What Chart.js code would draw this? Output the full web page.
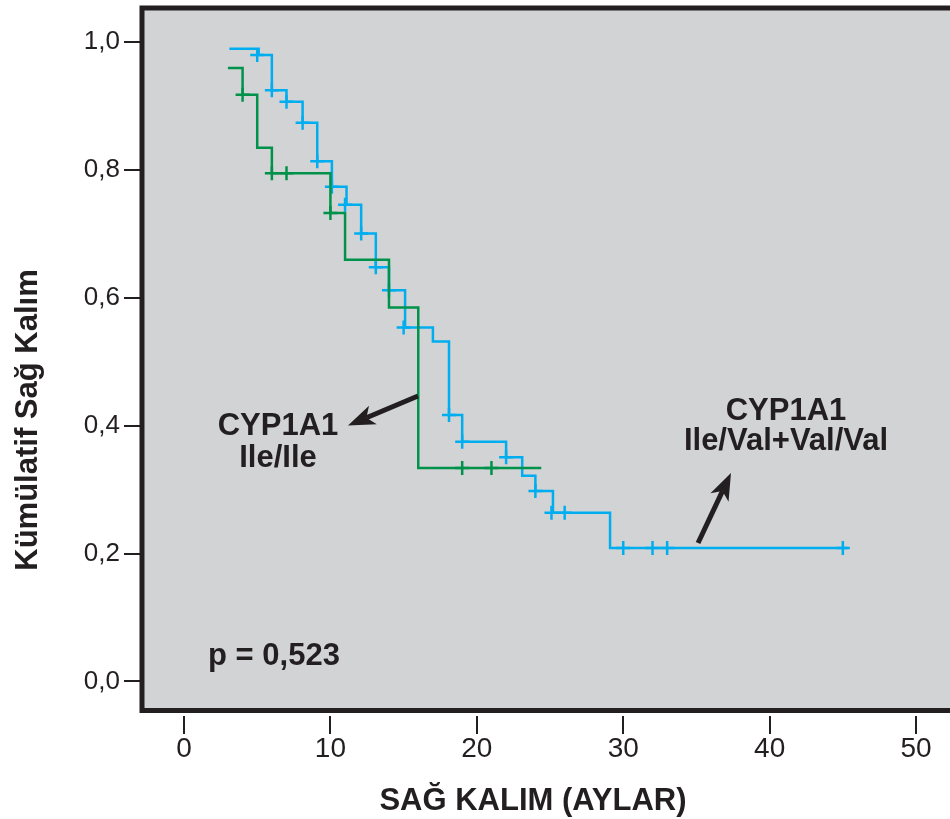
<!DOCTYPE html>
<html>
<head>
<meta charset="utf-8">
<script src="https://cdn.jsdelivr.net/npm/chart.js@4.4.1/dist/chart.umd.min.js"></script>
<style>
  html, body { margin: 0; padding: 0; background: #ffffff; overflow: hidden; }
  #wrap { width: 950px; height: 819px; position: relative; }
</style>
</head>
<body>
<div id="wrap"><canvas id="kmChart"></canvas></div>
<script>
// Kaplan-Meier eğrileri: zaman (ay) ve kümülatif sağ kalım
const ileIleTimes = [3.0, 4.0, 5.0, 6.0, 10.0, 11.0, 14.0, 16.0, 24.4];
const ileIleSurv  = [0.960, 0.918, 0.835, 0.795, 0.733, 0.660, 0.585, 0.334, 0.334];
const ileIleCensorTimes = [4.0, 6.0, 7.0, 10.0, 19.0, 21.0];
const ileIleCensorSurv  = [0.918, 0.795, 0.795, 0.733, 0.334, 0.334];

const valTimes = [3.1, 5.1, 6.0, 7.0, 8.1, 9.1, 10.1, 11.1, 12.1, 13.1, 14.0, 15.1, 17.0, 18.1, 19.0, 22.0, 23.1, 24.0, 25.2, 29.1, 45.3];
const valSurv  = [0.990, 0.980, 0.925, 0.907, 0.874, 0.814, 0.774, 0.746, 0.701, 0.648, 0.612, 0.554, 0.532, 0.417, 0.375, 0.351, 0.322, 0.298, 0.264, 0.209, 0.209];
const valCensorTimes = [5.0, 6.0, 7.0, 8.1, 9.1, 10.1, 11.0, 12.1, 13.1, 14.0, 15.0, 18.1, 19.0, 22.0, 24.0, 25.1, 26.0, 30.0, 32.0, 33.0, 45.0];
const valCensorSurv  = [0.980, 0.925, 0.907, 0.874, 0.814, 0.774, 0.746, 0.701, 0.648, 0.612, 0.554, 0.417, 0.375, 0.351, 0.298, 0.264, 0.264, 0.209, 0.209, 0.209, 0.209];

const xTicks = [0, 10, 20, 30, 40, 50];
const yTicks = [0, 0.2, 0.4, 0.6, 0.8, 1.0];

const xTitle = 'SAĞ KALIM (AYLAR)';
const yTitle = 'Kümülatif Sağ Kalım';
const leftLabel = ['CYP1A1', 'Ile/Ile'];
const rightLabel = ['CYP1A1', 'Ile/Val+Val/Val'];
const pText = 'p = 0,523';

const ink = '#231f20';
const blue = '#00aeef';
const green = '#00924a';
const sans = "'Liberation Sans', Arial, Helvetica, sans-serif";
const narrow = "'Liberation Sans Narrow', 'Arial Narrow', 'Liberation Sans', Arial, sans-serif";

const toPoints = (xs, ys) => xs.map((x, i) => ({ x: x, y: ys[i] }));

function drawArrow(ctx, x1, y1, x2, y2) {
  const ang = Math.atan2(y2 - y1, x2 - x1);
  const head = 27, half = 10, notch = 20;
  const c = Math.cos(ang), s = Math.sin(ang);
  const bx = x2 - head * c, by = y2 - head * s;
  const nx = x2 - notch * c, ny = y2 - notch * s;
  ctx.beginPath();
  ctx.moveTo(x1, y1);
  ctx.lineTo(nx, ny);
  ctx.stroke();
  ctx.beginPath();
  ctx.moveTo(x2, y2);
  ctx.lineTo(bx + half * s, by - half * c);
  ctx.lineTo(nx, ny);
  ctx.lineTo(bx - half * s, by + half * c);
  ctx.closePath();
  ctx.fill();
}

// çerçeve, gri zemin, eksen başlıkları ve oklar
const kmDecor = {
  id: 'kmDecor',
  beforeDraw(chart) {
    const { ctx, chartArea: a } = chart;
    ctx.save();
    ctx.fillStyle = '#d1d3d4';
    ctx.fillRect(a.left, a.top, chart.width - a.left + 20, (a.bottom - 5.5) - a.top);
    ctx.restore();
  },
  afterDraw(chart) {
    const { ctx, chartArea: a } = chart;
    const xs = chart.scales.x, ys = chart.scales.y;
    const px = v => xs.getPixelForValue(v);
    const py = v => ys.getPixelForValue(v);
    ctx.save();
    // çerçeve (sağ kenar görüntü dışında)
    ctx.strokeStyle = ink;
    ctx.lineWidth = 5;
    ctx.strokeRect(a.left, a.top, chart.width - a.left + 30, (a.bottom - 5.5) - a.top);

    ctx.fillStyle = ink;
    ctx.font = 'bold 31px ' + sans;
    ctx.textBaseline = 'alphabetic';

    // etiketler
    ctx.textAlign = 'center';
    ctx.fillText(leftLabel[0], px(6.42), py(0.3856));
    ctx.fillText(leftLabel[1], px(6.42), py(0.3356));
    ctx.fillText(rightLabel[0], px(41.12), py(0.4091));
    ctx.fillText(rightLabel[1], px(41.12), py(0.3622));
    ctx.textAlign = 'left';
    ctx.fillText(pText, px(1.64), py(0.0258));

    // eksen başlıkları
    ctx.textAlign = 'center';
    ctx.fillText(xTitle, 533, 810);
    ctx.save();
    ctx.translate(37, 420);
    ctx.rotate(-Math.PI / 2);
    ctx.fillText(yTitle, 0, 0);
    ctx.restore();

    // oklar
    ctx.lineWidth = 5;
    ctx.lineCap = 'butt';
    drawArrow(ctx, px(15.98), py(0.4466), px(11.2), py(0.4005));
    drawArrow(ctx, px(35.11), py(0.2167), px(37.36), py(0.3262));
    ctx.restore();
  }
};

const ctx = document.getElementById('kmChart').getContext('2d');
const kmChart = new Chart(ctx, {
  type: 'line',
  data: {
    datasets: [
      {
        label: 'Ile/Ile sansür',
        type: 'scatter',
        data: toPoints(ileIleCensorTimes, ileIleCensorSurv),
        pointStyle: 'cross',
        pointRadius: 7,
        borderColor: green,
        borderWidth: 2.5,
        showLine: false
      },
      {
        label: 'Ile/Ile',
        data: toPoints(ileIleTimes, ileIleSurv),
        stepped: 'before',
        borderColor: green,
        borderWidth: 2.5,
        pointRadius: 0,
        fill: false
      },
      {
        label: 'Ile/Val+Val/Val sansür',
        type: 'scatter',
        data: toPoints(valCensorTimes, valCensorSurv),
        pointStyle: 'cross',
        pointRadius: 7,
        borderColor: blue,
        borderWidth: 2.5,
        showLine: false
      },
      {
        label: 'Ile/Val+Val/Val',
        data: toPoints(valTimes, valSurv),
        stepped: 'before',
        borderColor: blue,
        borderWidth: 2.5,
        pointRadius: 0,
        fill: false
      }
    ]
  },
  options: {
    responsive: true,
    maintainAspectRatio: false,
    animation: false,
    layout: { autoPadding: false, padding: { top: 8, left: 0, right: 0, bottom: 0 } },
    plugins: {
      legend: { display: false },
      tooltip: { enabled: false }
    },
    scales: {
      x: {
        type: 'linear',
        min: -2.87,
        max: 52.32,
        afterBuildTicks: s => { s.ticks = xTicks.map(v => ({ value: v })); },
        afterFit: s => { s.height = 103; s.paddingLeft = 0; s.paddingRight = 0; },
        grid: { drawOnChartArea: false, drawTicks: true, tickLength: 18, color: ink, lineWidth: 2 },
        border: { display: false },
        ticks: {
          color: ink,
          padding: 0,
          maxRotation: 0,
          autoSkip: false,
          font: { family: narrow, size: 28, lineHeight: 1.1 },
          callback: v => String(v)
        }
      },
      y: {
        type: 'linear',
        min: -0.054,
        max: 1.0537,
        afterBuildTicks: s => { s.ticks = yTicks.map(v => ({ value: v })); },
        afterFit: s => { s.width = 142; s.paddingTop = 0; s.paddingBottom = 0; },
        grid: { drawOnChartArea: false, drawTicks: true, tickLength: 18, color: ink, lineWidth: 2 },
        border: { display: false },
        ticks: {
          color: ink,
          padding: 4,
          font: { family: sans, size: 26 },
          callback: v => v.toFixed(1).replace('.', ',')
        }
      }
    }
  },
  plugins: [kmDecor]
});
</script>
</body>
</html>
